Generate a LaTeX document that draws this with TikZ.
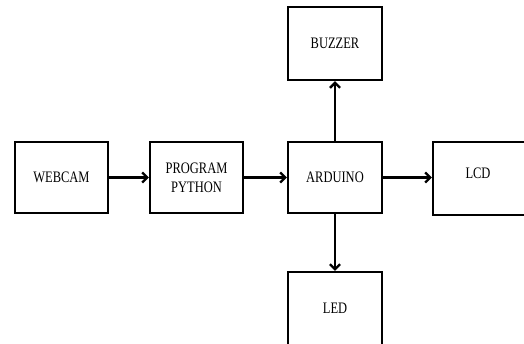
\documentclass[tikz,border=0pt]{standalone}
\usepackage{fontspec}
\setmainfont[FakeStretch=0.78]{Liberation Serif}
\usetikzlibrary{arrows.meta}
\tikzset{
  blk/.style={draw, line width=2.2pt, minimum width=93pt, minimum height=71pt, inner sep=0pt, align=center,
    font=\fontsize{16}{19}\selectfont},
  conn/.style={line width=2.4pt, -{Straight Barb[length=5pt,width=10pt,line width=2.4pt]}}
}
\begin{document}
\begin{tikzpicture}[x=1pt,y=-1pt]
\useasboundingbox (0,0) rectangle (524,343);
\clip (0,0) rectangle (524,343);
\node[blk] (webcam) at (61.5,177.5) {WEBCAM};
\node[blk] (python) at (196.5,177.5) {PROGRAM\\PYTHON};
\node[blk, minimum width=94pt] (arduino) at (335,177.5) {ARDUINO};
\node[blk, minimum width=94pt, minimum height=73pt] (buzzer) at (335,43.5) {BUZZER};
\node[blk, minimum width=96pt, minimum height=73pt] (lcd) at (481,178.5) {};
\node[font=\fontsize{16}{19}\selectfont, inner sep=0pt] (lcdtext) at (478,173) {LCD};
\node[blk, minimum width=94pt, minimum height=73pt] (led) at (335,308.5) {LED};
\draw[conn] (webcam) -- (python);
\draw[conn] (python) -- (arduino);
\draw[conn] (arduino) -- (lcd.west |- arduino);
\draw[conn] (arduino) -- (buzzer);
\draw[conn] (arduino) -- (led);
\end{tikzpicture}
\end{document}
